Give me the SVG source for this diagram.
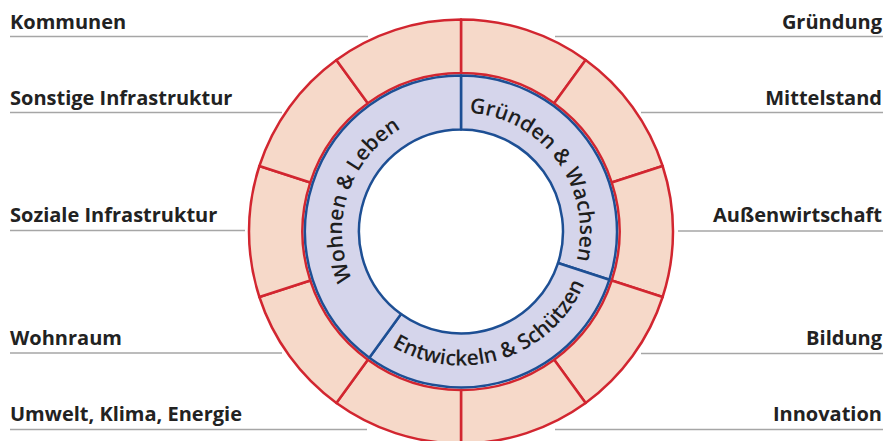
<svg xmlns="http://www.w3.org/2000/svg" width="884" height="441" viewBox="0 0 884 441">
<style>
.lbl{font-family:"Open Sans","Liberation Sans",sans-serif;font-weight:700;font-size:20px;fill:#222}
.r{text-anchor:end}
.ln{stroke:#A6A6A6;stroke-width:1.5;fill:none}
.sec{fill:#F6D9C9;stroke:#D22630;stroke-width:2.5;stroke-linejoin:round}
.seg{fill:#D5D5EB;stroke:#1D4F94;stroke-width:2.5;stroke-linejoin:round}
.rt{font-family:"Open Sans","Liberation Sans",sans-serif;font-size:21px;font-weight:600;fill:#1E1E1E}
</style>
<defs>
<path id="pTop" d="M 461 112.5 A 119 119 0 0 1 574.18 268.27"/>
<path id="pLeft" d="M 391.05 327.77 A 119 119 0 0 1 461 112.5"/>
<path id="pBot" d="M 382.23 339.91 A 134 134 0 0 0 588.45 272.91"/>
</defs>
<rect width="884" height="441" fill="#fff"/>
<g id="connectors">
<line class="ln" x1="10" y1="36.5" x2="368" y2="36.5"/>
<line class="ln" x1="10" y1="112.5" x2="282" y2="112.5"/>
<line class="ln" x1="10" y1="230.5" x2="245" y2="230.5"/>
<line class="ln" x1="10" y1="353" x2="282" y2="353"/>
<line class="ln" x1="10" y1="429.5" x2="367" y2="429.5"/>
<line class="ln" x1="555" y1="36.5" x2="883" y2="36.5"/>
<line class="ln" x1="641" y1="112.5" x2="883" y2="112.5"/>
<line class="ln" x1="678" y1="231" x2="883" y2="231"/>
<line class="ln" x1="641" y1="353.5" x2="883" y2="353.5"/>
<line class="ln" x1="555" y1="429.5" x2="883" y2="429.5"/>
</g>
<g id="outer-ring">
<path id="s1" class="sec" d="M 461 19.5 A 212 212 0 0 1 585.61 59.99 L 554.17 103.27 A 158.5 158.5 0 0 0 461 73 Z"/>
<path id="s2" class="sec" d="M 585.61 59.99 A 212 212 0 0 1 662.63 165.99 L 611.75 182.52 A 158.5 158.5 0 0 0 554.17 103.27 Z"/>
<path id="s3" class="sec" d="M 662.63 165.99 A 212 212 0 0 1 662.63 297.01 L 611.75 280.48 A 158.5 158.5 0 0 0 611.75 182.52 Z"/>
<path id="s4" class="sec" d="M 662.63 297.01 A 212 212 0 0 1 585.61 403.01 L 554.17 359.73 A 158.5 158.5 0 0 0 611.75 280.48 Z"/>
<path id="s5" class="sec" d="M 585.61 403.01 A 212 212 0 0 1 461 443.5 L 461 390 A 158.5 158.5 0 0 0 554.17 359.73 Z"/>
<path id="s6" class="sec" d="M 461 443.5 A 212 212 0 0 1 336.39 403.01 L 367.83 359.73 A 158.5 158.5 0 0 0 461 390 Z"/>
<path id="s7" class="sec" d="M 336.39 403.01 A 212 212 0 0 1 259.37 297.01 L 310.25 280.48 A 158.5 158.5 0 0 0 367.83 359.73 Z"/>
<path id="s8" class="sec" d="M 259.37 297.01 A 212 212 0 0 1 259.37 165.99 L 310.25 182.52 A 158.5 158.5 0 0 0 310.25 280.48 Z"/>
<path id="s9" class="sec" d="M 259.37 165.99 A 212 212 0 0 1 336.39 59.99 L 367.83 103.27 A 158.5 158.5 0 0 0 310.25 182.52 Z"/>
<path id="s10" class="sec" d="M 336.39 59.99 A 212 212 0 0 1 461 19.5 L 461 73 A 158.5 158.5 0 0 0 367.83 103.27 Z"/>
</g>
<g id="gruenden">
<path class="seg" d="M 461 75.5 A 156 156 0 0 1 609.37 279.7 L 558.01 263.02 A 102 102 0 0 0 461 129.5 Z"/>
<text class="rt"><textPath href="#pTop" startOffset="50%" text-anchor="middle">Gründen &amp; Wachsen</textPath></text>
</g>
<g id="entwickeln">
<path class="seg" d="M 609.37 279.7 A 156 156 0 0 1 369.3 357.7 L 401.04 314.02 A 102 102 0 0 0 558.01 263.02 Z"/>
<text class="rt"><textPath href="#pBot" startOffset="50%" text-anchor="middle">Entwickeln &amp; Schützen</textPath></text>
</g>
<g id="wohnen">
<path class="seg" d="M 369.3 357.7 A 156 156 0 0 1 461 75.5 L 461 129.5 A 102 102 0 0 0 401.04 314.02 Z"/>
<text class="rt"><textPath href="#pLeft" startOffset="50%" text-anchor="middle">Wohnen &amp; Leben</textPath></text>
</g>
<g id="lbl-kommunen"><text class="lbl" x="10" y="29">Kommunen</text></g>
<g id="lbl-sonstige"><text class="lbl" x="10" y="104.5">Sonstige Infrastruktur</text></g>
<g id="lbl-soziale"><text class="lbl" x="10" y="222">Soziale Infrastruktur</text></g>
<g id="lbl-wohnraum"><text class="lbl" x="10" y="345">Wohnraum</text></g>
<g id="lbl-umwelt"><text class="lbl" x="10" y="421">Umwelt, Klima, Energie</text></g>
<g id="lbl-gruendung"><text class="lbl r" x="882" y="29">Gründung</text></g>
<g id="lbl-mittelstand"><text class="lbl r" x="882" y="104.5">Mittelstand</text></g>
<g id="lbl-aussen"><text class="lbl r" x="882" y="222">Außenwirtschaft</text></g>
<g id="lbl-bildung"><text class="lbl r" x="882" y="345">Bildung</text></g>
<g id="lbl-innovation"><text class="lbl r" x="882" y="421">Innovation</text></g>
</svg>
